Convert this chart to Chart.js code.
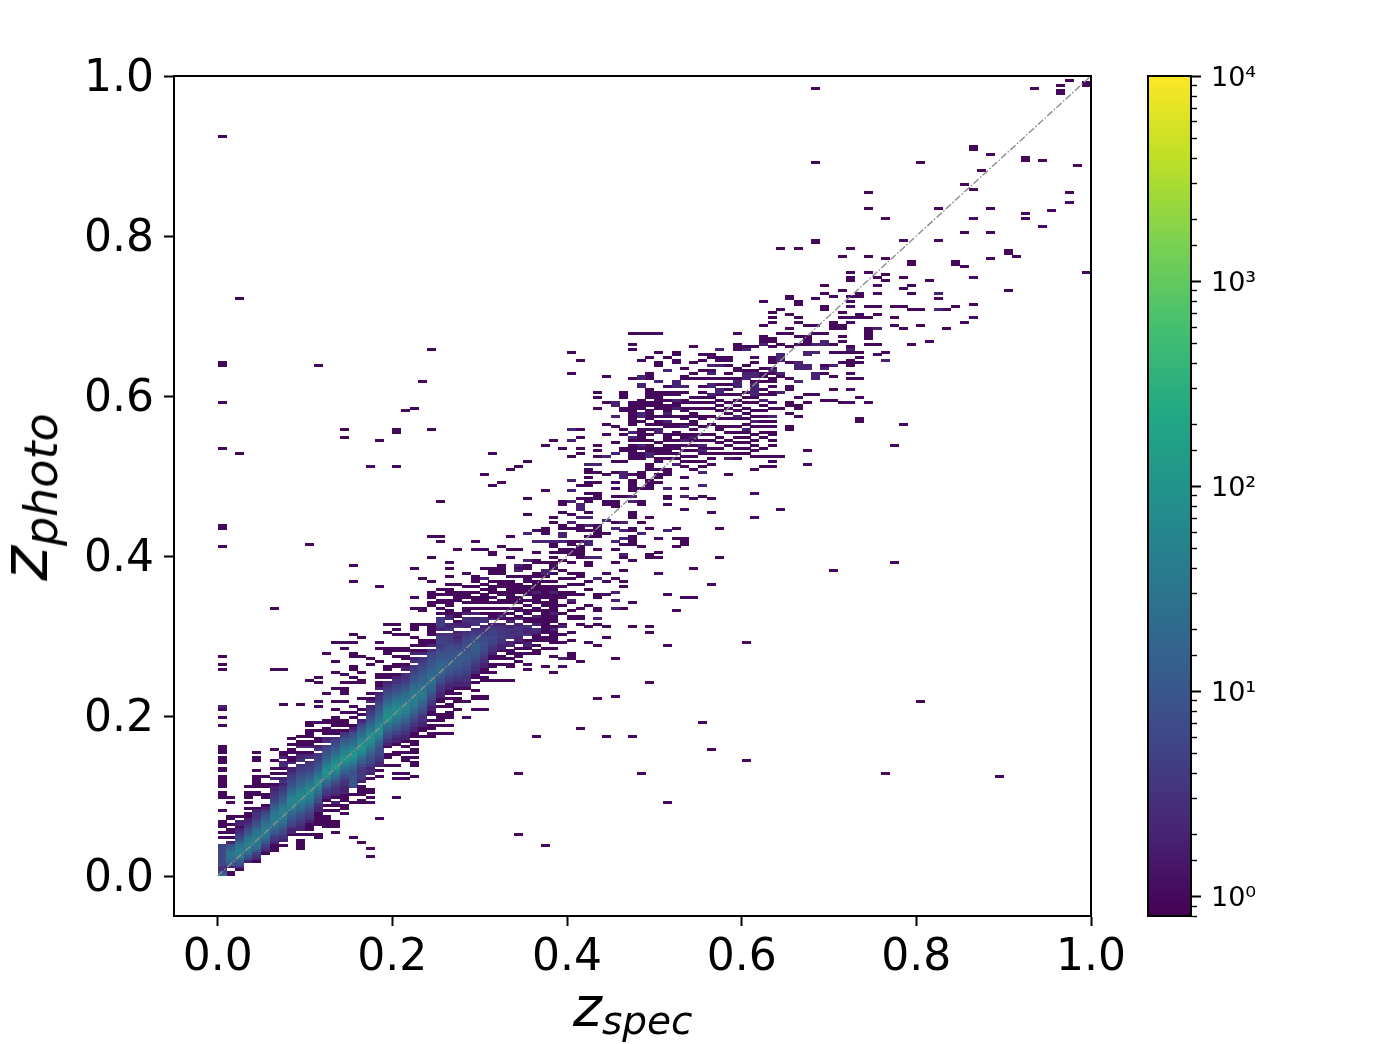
<!DOCTYPE html>
<html lang="en">

<head>
    <meta charset="UTF-8" />
    <script src="https://cdn.jsdelivr.net/npm/chart.js@4/dist/chart.umd.min.js"></script>
    <style>
        body { margin: 0; background: #fff; }
        canvas { position: absolute; left: 0; top: 0; }
        .axis-label { position: absolute; font-family: "DejaVu Sans"; font-style: italic; line-height: 1; white-space: nowrap; color: #000; }
        .axis-label sub { line-height: 0; }
        #xlabel { left: 573px; top: 980px; font-size: 55px; }
        #xlabel sub { font-size: 39px; vertical-align: -8px; }
        #ylabel { left: 25px; top: 497px; font-size: 66px; transform: translate(-50%, -50%) rotate(-90deg); }
        #ylabel sub { font-size: 46px; vertical-align: -10px; }
    </style>
</head>

<body>
    <canvas id="hist" width="1388" height="1044"></canvas>
    <canvas id="bar" width="1388" height="1044"></canvas>
    <div class="axis-label" id="xlabel">z<sub>spec</sub></div>
    <div class="axis-label" id="ylabel">z<sub>photo</sub></div>
    <script>
        // bin sizes of the 2d histogram: columns are 0.01 wide, rows 1/300 high
        const colWidth = 0.01;
        const rowHeight = 1 / 300;

        // contiguous part of each column, counts going upwards from coreStart (0 = empty bin)
        const coreStart = [0, 3, 2, 5, 5, 8, 9, 11, 15, 15, 15, 24, 28, 24, 23, 33, 33, 36, 37, 48, 49, 46, 46, 52, 52, 63, 68, 68, 70, 72, 73, 76, 79, 83, 85, 83, 86, 88];
        const coreCounts = [
            [25, 8, 3, 3, 6, 6, 6, 7, 6, 6, 6, 5],
            [2, 10, 18, 25, 30, 28, 22, 15, 8, 2],
            [1, 3, 7, 12, 22, 35, 42, 45, 38, 28, 18, 10, 6, 4, 3, 2, 1, 2, 2],
            [2, 5, 10, 20, 32, 40, 45, 42, 35, 25, 15, 9, 6, 4, 3, 2, 2, 1, 1],
            [1, 2, 3, 5, 11, 20, 30, 38, 42, 40, 35, 28, 20, 13, 8, 6, 4, 3, 3, 2],
            [1, 2, 3, 5, 9, 16, 26, 36, 42, 40, 34, 27, 20, 13, 9, 6, 4, 2, 1],
            [1, 1, 1, 2, 3, 4, 7, 11, 17, 26, 36, 44, 46, 40, 32, 24, 16, 11, 7, 5, 4, 3, 3, 2, 2, 1, 0, 2, 0, 1],
            [1, 0, 2, 3, 4, 6, 8, 12, 18, 26, 36, 46, 52, 48, 40, 30, 20, 13, 9, 7, 5, 4, 3, 2, 3, 2, 0, 1, 0, 1, 3, 2, 0, 2, 1, 1],
            [1, 2, 2, 4, 5, 7, 10, 14, 20, 30, 42, 52, 58, 54, 44, 32, 22, 15, 11, 8, 6, 5, 4, 3, 2, 2, 0, 2, 1, 1, 0, 1, 1, 0, 1, 0, 1],
            [1, 0, 2, 2, 3, 4, 5, 7, 10, 14, 22, 32, 44, 56, 62, 58, 48, 36, 26, 18, 14, 10, 8, 6, 5, 4, 3, 0, 3, 2, 2, 1, 0, 2, 1, 1, 0, 1],
            [1, 0, 1, 1, 1, 2, 3, 4, 5, 7, 10, 15, 23, 34, 48, 64, 72, 68, 52, 38, 25, 16, 11, 8, 6, 5, 4, 3, 0, 3, 2, 1, 0, 2, 1, 1],
            [2, 2, 3, 5, 7, 11, 16, 25, 38, 58, 76, 70, 52, 36, 24, 15, 11, 8, 6, 5, 4, 3, 0, 3, 2, 0, 1, 1],
            [1, 2, 3, 4, 5, 9, 15, 24, 42, 66, 88, 84, 66, 46, 30, 20, 14, 10, 8, 6, 5, 0, 3, 2, 0, 1, 1, 1],
            [1, 0, 1, 2, 0, 1, 2, 3, 3, 4, 5, 9, 15, 24, 40, 62, 90, 100, 80, 58, 40, 28, 20, 14, 10, 7, 5, 3],
            [1, 0, 1, 1, 0, 1, 1, 1, 2, 2, 2, 3, 3, 5, 6, 11, 16, 25, 40, 64, 92, 100, 78, 56, 38, 28, 18, 12, 8, 5, 3, 1],
            [6, 10, 10, 8, 10, 8, 10, 15, 24, 36, 56, 88, 110, 90, 62, 44, 30, 20, 14, 10, 6, 3, 2, 1],
            [1, 0, 2, 3, 4, 4, 3, 4, 7, 11, 16, 25, 40, 62, 90, 105, 86, 62, 44, 30, 20, 14, 9, 6, 3, 2, 0, 1],
            [1, 0, 2, 3, 2, 4, 6, 7, 9, 12, 16, 25, 38, 56, 80, 95, 84, 66, 46, 32, 22, 14, 10, 7, 5, 4, 3, 2, 0, 2, 1],
            [1, 0, 1, 0, 2, 2, 3, 4, 5, 6, 7, 9, 13, 20, 30, 48, 70, 85, 78, 66, 50, 36, 26, 18, 14, 10, 8, 6, 4, 3, 3, 2, 0, 2, 1, 1, 0, 1, 1, 0],
            [1, 2, 3, 4, 6, 8, 13, 20, 30, 46, 70, 88, 84, 68, 50, 38, 26, 18, 12, 9, 7, 5, 4, 3, 2, 0, 1, 1],
            [1, 2, 2, 3, 5, 7, 10, 14, 20, 30, 46, 66, 80, 74, 60, 46, 34, 24, 17, 12, 8, 6, 5, 3, 3, 2, 1, 0],
            [1, 0, 1, 0, 1, 2, 2, 3, 4, 5, 7, 11, 16, 24, 30, 42, 52, 58, 52, 42, 32, 24, 18, 14, 10, 7, 5, 4, 3, 3, 0, 2, 2, 1, 0, 1, 1],
            [1, 1, 0, 1, 1, 0, 1, 1, 2, 2, 3, 4, 5, 8, 12, 16, 22, 30, 38, 44, 46, 42, 36, 28, 22, 18, 14, 10, 8, 6, 5, 4, 3, 0, 3, 2, 0, 2, 1],
            [1, 0, 1, 1, 2, 2, 3, 3, 4, 6, 9, 12, 16, 20, 26, 32, 34, 32, 28, 24, 20, 16, 13, 11, 9, 7, 6, 5, 4, 3, 0, 2, 1],
            [1, 1, 0, 1, 1, 0, 1, 0, 1, 1, 2, 2, 3, 4, 5, 7, 10, 13, 16, 20, 24, 26, 24, 20, 17, 14, 12, 10, 8, 7, 6, 5, 3, 0, 2, 1, 1],
            [1, 0, 1, 1, 2, 2, 3, 3, 4, 6, 8, 10, 14, 17, 19, 18, 16, 14, 11, 9, 8, 6, 5, 4, 5, 5, 4, 3, 0, 2, 3, 4, 4, 3, 0, 1],
            [1, 1, 2, 2, 3, 4, 5, 7, 10, 12, 14, 14, 13, 12, 10, 9, 8, 7, 6, 5, 4, 4, 3, 0, 3, 2, 2, 0, 2, 2, 1, 1],
            [1, 0, 1, 2, 2, 3, 4, 5, 6, 8, 10, 11, 12, 11, 10, 9, 8, 7, 5, 4, 3, 2, 3, 2, 0, 3, 2, 1, 0, 1, 1],
            [1, 2, 2, 3, 3, 4, 5, 6, 7, 8, 9, 10, 11, 10, 9, 8, 8, 7, 6, 5, 4, 3, 0, 2, 2, 3, 3, 0, 2, 1, 1],
            [1, 0, 1, 1, 2, 3, 3, 4, 5, 7, 8, 10, 12, 13, 12, 10, 8, 6, 5, 4, 3, 0, 3, 3, 2, 0, 2],
            [1, 1, 0, 1, 1, 2, 2, 3, 3, 4, 5, 6, 7, 8, 8, 7, 6, 5, 4, 3, 2, 0, 3, 3, 0, 1],
            [1, 0, 1, 1, 0, 1, 1, 2, 3, 3, 4, 5, 5, 6, 5, 5, 4, 3, 2, 0, 2, 1, 1, 0, 1],
            [1, 0, 1, 1, 0, 1, 2, 2, 3, 3, 4, 4, 4, 3, 3, 2, 0, 1, 2, 1, 0, 1],
            [1, 1, 0, 2, 2, 0, 3, 3, 3, 3, 2, 0, 2, 1, 0, 1],
            [1, 0, 1, 2, 2, 3, 3, 3, 3, 2, 0, 2, 1, 0, 1, 1],
            [1, 0, 1, 2, 2, 1, 0, 3, 2, 2, 3, 0, 1, 1, 0, 1, 1, 0, 1],
            [1, 0, 1, 1, 1, 2, 3, 0, 2, 1, 1, 2, 0, 1, 1],
            [1, 1, 0, 1, 1, 1, 1, 1, 1, 1, 1, 1]
        ];

        // isolated rows holding a single object, one list per column
        const strayOnes = [
            [14, 16, 18, 19, 20, 24, 29, 30, 31, 33, 34, 35, 36, 37, 39, 40, 42, 43, 44, 46, 47, 48, 56, 59, 62, 77, 79, 82, 123, 130, 131, 160, 177, 191, 192, 277],
            [0, 1, 14, 16, 17, 19, 21, 22, 27, 29],
            [22, 158, 216],
            [25, 27, 29, 30, 31, 33],
            [25, 30, 31, 33, 34, 35, 36, 37, 39, 43, 44, 46],
            [26, 29, 30, 33, 34, 37],
            [40, 43, 47, 77, 100],
            [64, 77],
            [],
            [10, 11, 12, 13, 64],
            [52, 53, 54, 56, 57, 73, 124],
            [14, 15, 19, 20, 21, 22, 23, 54, 57, 63, 65, 72, 74, 191],
            [18, 19, 20, 21, 22, 24, 26, 57, 58, 68, 83],
            [16, 18, 19, 20, 53, 54, 56, 57, 58, 59, 62, 65, 70, 76, 80, 87],
            [56, 57, 58, 61, 65, 68, 69, 70, 72, 75, 85, 87, 164, 167],
            [14, 27, 30, 59, 61, 63, 72, 74, 77, 78, 82, 83, 87, 90, 110, 116],
            [12, 27, 28, 30, 31, 32, 62, 66, 72, 73, 76, 82, 89],
            [7, 10, 27, 29, 31, 32, 68, 79, 81, 153],
            [21, 80, 85, 87, 108, 163],
            [41, 44, 45, 77, 78, 83, 84, 85, 91, 94],
            [29, 36, 38, 41, 45, 46, 78, 79, 82, 84, 85, 90, 92, 94, 153, 166, 167],
            [36, 38, 43, 44, 84, 85, 90, 174],
            [37, 41, 42, 44, 86, 89, 92, 93, 94, 100, 104, 115, 175],
            [86, 87, 88, 94, 99, 100, 111, 185],
            [90, 91, 92, 93, 94, 101, 102, 104, 105, 106, 110, 119, 127, 167, 197],
            [53, 56, 58, 59, 60, 100, 102, 103, 105, 107, 125, 127, 140],
            [53, 56, 59, 60, 61, 63, 64, 66, 101, 102, 103, 105, 106, 107, 109, 112, 115, 117],
            [62, 65, 66, 103, 104, 105, 106, 109, 122],
            [59, 65, 102, 104, 105, 106, 108, 113],
            [62, 66, 67, 69, 100, 102, 103, 104, 106, 108, 110, 111, 112, 122, 125],
            [62, 66, 67, 100, 102, 103, 104, 105, 107, 109, 115, 122, 150],
            [73, 102, 104, 106, 107, 108, 110, 113, 114, 115, 120, 121, 146, 158],
            [73, 102, 103, 105, 106, 108, 109, 110, 113, 114, 115, 116, 123, 147],
            [73, 78, 79, 81, 100, 102, 103, 104, 105, 106, 107, 108, 109, 110, 112, 119, 122, 127, 152],
            [15, 38, 80, 82, 83, 102, 103, 104, 106, 107, 108, 109, 112, 115, 122, 153],
            [77, 79, 103, 105, 106, 107, 108, 110, 111, 112, 115, 116, 135, 141, 155],
            [52, 83, 84, 102, 103, 104, 105, 107, 108, 109, 110, 112, 113, 117, 118, 121, 129],
            [11, 78, 85, 101, 102, 104, 105, 106, 107, 108, 110, 112, 117, 128, 129, 130, 144, 161],
            [76, 82, 85, 87, 88, 89, 90, 91, 93, 95, 96, 97, 99, 100, 101, 102, 103, 104, 105, 107, 108, 110, 113, 115, 116, 117, 119, 121, 123, 124, 132, 134, 163],
            [78, 87, 90, 94, 98, 101, 104, 105, 106, 108, 111, 114, 118, 121, 122, 130, 131, 136, 139, 140, 160],
            [81, 82, 83, 88, 91, 96, 97, 99, 102, 105, 106, 109, 111, 113, 117, 120, 121, 122, 124, 125, 130, 135, 157, 188, 196],
            [55, 80, 94, 96, 97, 100, 105, 109, 112, 113, 119, 120, 121, 122, 123, 125, 129, 130, 131, 141, 146, 158, 160, 164, 167, 193],
            [87, 93, 101, 107, 110, 116, 117, 127, 129, 136, 140, 141, 143, 146, 147, 149, 151, 152],
            [66, 86, 94, 99, 100, 104, 105, 122, 127, 128, 129, 130, 131, 141, 142, 143, 147, 151, 157, 159, 161, 175, 179, 181],
            [52, 89, 93, 105, 110, 113, 128, 139, 140, 150, 165, 169, 177, 187],
            [67, 81, 111, 117, 122, 132, 138, 139, 140, 142, 145, 147, 151, 155, 162, 168],
            [100, 108, 110, 114, 119, 124, 142, 155, 159, 160, 165, 167, 174, 175, 179, 180, 181],
            [52, 93, 102, 118, 124, 125, 126, 127, 129, 130, 134, 135, 136, 144, 145, 146, 147, 148, 150, 156, 157, 158, 159, 160, 161, 163, 169, 170, 171, 172, 173, 174, 175, 176, 177, 186, 197, 199, 203],
            [38, 123, 132, 139, 140, 145, 149, 150, 151, 156, 157, 158, 160, 163, 164, 165, 166, 167, 170, 175, 176, 177, 178, 193, 203],
            [72, 91, 93, 119, 120, 130, 134, 145, 146, 147, 148, 152, 153, 154, 159, 160, 161, 163, 165, 167, 169, 171, 172, 173, 174, 176, 177, 179, 180, 181, 182, 186, 187, 188, 194, 203],
            [113, 119, 121, 126, 147, 149, 150, 152, 155, 156, 158, 159, 160, 162, 169, 170, 172, 175, 176, 177, 178, 179, 180, 181, 191, 192, 196, 203],
            [27, 86, 105, 139, 141, 142, 150, 151, 152, 156, 158, 159, 160, 161, 163, 164, 165, 168, 169, 172, 174, 175, 176, 178, 180, 181, 183, 194],
            [99, 123, 126, 130, 156, 158, 160, 161, 163, 165, 166, 168, 169, 172, 176, 177, 180, 181, 192, 193, 195, 196],
            [104, 124, 125, 126, 137, 145, 149, 153, 155, 157, 159, 161, 164, 165, 169, 171, 172, 174, 175, 177, 178, 181, 186, 187, 190],
            [104, 115, 141, 152, 155, 157, 159, 161, 163, 165, 167, 169, 170, 172, 173, 175, 177, 179, 186, 188, 192, 198],
            [57, 142, 153, 155, 158, 160, 163, 165, 168, 171, 172, 175, 177, 179, 181, 183, 186, 189, 193, 195],
            [47, 109, 136, 141, 154, 156, 158, 160, 163, 165, 169, 172, 175, 177, 179, 186, 189, 194, 195],
            [119, 130, 158, 160, 162, 164, 167, 168, 171, 174, 176, 178, 180, 184, 186, 193, 194],
            [150, 158, 161, 163, 166, 168, 171, 173, 175, 177, 180, 182, 184, 186, 188, 191, 193, 194],
            [156, 158, 160, 162, 164, 166, 168, 171, 174, 176, 178, 180, 186, 189, 190, 197, 198, 199, 203],
            [43, 87, 158, 160, 162, 164, 166, 169, 171, 173, 175, 177, 179, 181, 189, 191, 198],
            [134, 143, 152, 157, 159, 161, 163, 165, 168, 172, 174, 177, 179, 185, 189, 192, 194, 198],
            [153, 157, 160, 164, 166, 168, 170, 172, 174, 176, 180, 182, 185, 187, 188, 190, 200, 201, 202, 206, 215],
            [153, 155, 157, 161, 163, 165, 166, 168, 170, 175, 177, 180, 181, 183, 185, 186, 188, 190, 192, 193, 194, 198, 200, 201, 207, 209, 211],
            [137, 157, 175, 187, 199, 203, 212, 235],
            [167, 168, 173, 176, 177, 182, 183, 186, 192, 198, 203, 205, 210, 216, 217],
            [172, 175, 176, 179, 199, 202, 207, 209, 214, 215, 235],
            [154, 159, 177, 180, 199, 200, 201, 202, 206],
            [180, 203, 206, 216, 237, 238, 267, 295],
            [178, 188, 191, 203, 212, 213, 218, 221],
            [114, 178, 182, 187, 196, 199, 205, 206, 207, 217],
            [177, 192, 196, 200, 202, 205, 206, 209, 211, 219, 232],
            [177, 182, 186, 188, 191, 192, 193, 196, 198, 207, 209, 213, 215, 217, 223, 224, 226, 235],
            [170, 171, 179, 186, 192, 194, 196, 209, 210, 217, 218],
            [177, 199, 201, 202, 203, 204, 205, 209, 213, 226, 232, 250, 256],
            [195, 199, 210, 213, 218, 221, 224],
            [38, 196, 223, 225, 231, 246],
            [117, 161, 206, 209, 213],
            [169, 205, 213, 220, 224, 238],
            [199, 212, 218, 221, 229, 230],
            [65, 206, 212, 267],
            [200, 223],
            [216, 238, 250],
            [205, 212],
            [213, 229, 230],
            [207, 228, 241, 259],
            [209, 214, 224, 246, 257, 272, 273],
            [264],
            [231, 241, 250, 270],
            [37],
            [219, 233, 234],
            [232],
            [246, 248, 268, 269],
            [295],
            [243, 268],
            [249],
            [293, 294, 296],
            [252, 256, 298],
            [266],
            [226, 296, 297]
        ];

        // isolated rows holding two or three objects, lighter purple: strayColumns[n] has rows strayTwos[n]
        const strayColumns = [0, 30, 34, 35, 36, 37, 38, 39, 40, 41, 42, 43, 44, 45, 46, 47, 48, 49, 50, 51, 52, 53, 54, 55, 56, 57, 58, 59, 60, 61, 62, 63, 64, 66, 67, 68, 69, 70, 72, 75, 76, 82];
        const strayTwos = [
            [63],
            [111],
            [114, 116],
            [118, 128],
            [106, 125],
            [113, 114, 125],
            [92, 98, 106, 125],
            [81, 93, 125, 127, 128],
            [103, 132, 140, 144, 148, 163, 167],
            [134, 137, 138, 139],
            [119, 124, 125, 131, 134, 154],
            [96, 111, 119, 154],
            [133, 157],
            [100, 103, 106, 125, 130, 158, 172, 176, 177],
            [120, 126, 129, 132, 149, 150, 151],
            [140, 142, 164, 166],
            [128, 161, 172, 173, 183, 184, 186, 187],
            [157, 158],
            [166, 167, 185],
            [129, 145, 170, 173, 189],
            [154, 175, 178, 183, 184, 185],
            [142, 163, 168, 183],
            [164],
            [146, 151, 159, 161],
            [180, 183, 184, 188, 191],
            [181, 182, 191, 197],
            [156],
            [172, 183, 184, 185],
            [167, 186, 187, 188, 197],
            [170, 180, 181, 182, 183, 184, 187, 188],
            [178, 199],
            [172, 189],
            [181, 188, 193, 194, 195],
            [185, 190, 191, 192],
            [190, 191, 195, 196],
            [186, 187, 188, 196, 199],
            [190, 199, 200],
            [191],
            [197],
            [205],
            [193],
            [212, 218]
        ];

        const xTicks = [0, 0.2, 0.4, 0.6, 0.8, 1];
        const yTicks = [0, 0.2, 0.4, 0.6, 0.8, 1];
        const diagonal = [0, 1];
        const barRange = [0.8, 10000];

        // viridis anchors
        const viridis = ['#440154', '#482475', '#414487', '#355f8d', '#2a788e', '#21918c', '#22a884', '#44bf70', '#7ad151', '#bddf26', '#fde725'];

        function hexRgb(h) {
            return [1, 3, 5].map(k => parseInt(h.slice(k, k + 2), 16));
        }
        function colorFor(count) {
            const t = (Math.log10(count) - Math.log10(barRange[0])) / (Math.log10(barRange[1]) - Math.log10(barRange[0]));
            const p = Math.min(t, 0.9999) * (viridis.length - 1);
            const k = Math.floor(p);
            const a = hexRgb(viridis[k]);
            const b = hexRgb(viridis[k + 1]);
            const c = a.map((v, n) => Math.round(v + (b[n] - v) * (p - k)));
            return `rgb(${c[0]},${c[1]},${c[2]})`;
        }

        const cells = [];
        function addCell(col, row, count) {
            cells.push({ x: (col + 0.5) * colWidth, y: (row + 0.5) * rowHeight, count: count });
        }
        strayOnes.forEach((rows, col) => rows.forEach(row => addCell(col, row, 1)));
        strayTwos.forEach((rows, n) => rows.forEach(row => addCell(strayColumns[n], row, 2)));
        coreCounts.forEach((list, col) => {
            list.forEach((count, n) => {
                if (count > 0) addCell(col, coreStart[col] + n, count);
            });
        });

        // one little canvas per count, chart.js draws it as the point style
        const stamps = {};
        function stampFor(ctx) {
            const cell = ctx.raw;
            if (!cell) return 'rect';
            const chart = ctx.chart;
            const w = Math.ceil(Math.abs(chart.scales.x.getPixelForValue(colWidth) - chart.scales.x.getPixelForValue(0)));
            const h = Math.ceil(Math.abs(chart.scales.y.getPixelForValue(rowHeight) - chart.scales.y.getPixelForValue(0)));
            const key = cell.count + '_' + w + '_' + h;
            if (!stamps[key]) {
                const c = document.createElement('canvas');
                c.width = w;
                c.height = h;
                const g = c.getContext('2d');
                g.fillStyle = colorFor(cell.count);
                g.fillRect(0, 0, w, h);
                stamps[key] = c;
            }
            return stamps[key];
        }

        const frame = {
            id: 'frame',
            afterDatasetsDraw(chart) {
                const a = chart.chartArea;
                const ctx = chart.ctx;
                ctx.save();
                ctx.strokeStyle = '#000';
                ctx.lineWidth = 2;
                ctx.strokeRect(a.left, a.top, a.right - a.left, a.bottom - a.top);
                ctx.restore();
            }
        };

        new Chart(document.getElementById('hist').getContext('2d'), {
            type: 'scatter',
            plugins: [frame],
            data: {
                datasets: [
                    {
                        label: 'z_photo = z_spec',
                        data: diagonal.map(v => ({ x: v, y: v })),
                        showLine: true,
                        pointRadius: 0,
                        borderColor: '#8c8c8c',
                        borderWidth: 1.4,
                        borderDash: [7, 2, 1.5, 2],
                        order: 0
                    },
                    {
                        label: 'counts',
                        data: cells,
                        pointStyle: stampFor,
                        radius: 3,
                        order: 1
                    }
                ]
            },
            options: {
                responsive: false,
                animation: false,
                events: [],
                layout: { padding: { left: 0, top: 76, right: 297, bottom: 0 } },
                plugins: { legend: { display: false }, tooltip: { enabled: false } },
                scales: {
                    x: {
                        type: 'linear',
                        min: -0.05,
                        max: 1,
                        afterFit(s) { s.height = 128; },
                        afterBuildTicks(s) { s.ticks = xTicks.map(v => ({ value: v })); },
                        border: { color: '#000', width: 2 },
                        grid: { drawOnChartArea: false, tickLength: 10, tickWidth: 2, tickColor: '#000' },
                        ticks: { color: '#000', font: { family: 'DejaVu Sans', size: 44 }, padding: 6, maxRotation: 0, callback: v => v.toFixed(1) }
                    },
                    y: {
                        type: 'linear',
                        min: -0.05,
                        max: 1,
                        afterFit(s) { s.width = 174; },
                        afterBuildTicks(s) { s.ticks = yTicks.map(v => ({ value: v })); },
                        border: { color: '#000', width: 2 },
                        grid: { drawOnChartArea: false, tickLength: 10, tickWidth: 2, tickColor: '#000' },
                        // the empty first line pushes the digits down onto the tick
                        ticks: { color: '#000', font: { family: 'DejaVu Sans', size: 44, lineHeight: '7px' }, padding: 10, callback: v => ['', v.toFixed(1)] }
                    }
                }
            }
        });

        const sup = { 0: '\u2070', 1: '\u00b9', 2: '\u00b2', 3: '\u00b3', 4: '\u2074' };
        function isDecade(v) {
            const e = Math.log10(v);
            return Math.abs(e - Math.round(e)) < 1e-6;
        }
        // chart.js has one tick length per axis, so the short minor ticks are drawn here
        const minorTicks = {
            id: 'minorTicks',
            afterDraw(chart) {
                const s = chart.scales.y;
                const a = chart.chartArea;
                const ctx = chart.ctx;
                ctx.save();
                ctx.strokeStyle = '#000';
                ctx.lineWidth = 1.4;
                s.ticks.forEach(t => {
                    if (isDecade(t.value)) return;
                    const y = Math.round(s.getPixelForValue(t.value)) + 0.5;
                    ctx.beginPath();
                    ctx.moveTo(a.right, y);
                    ctx.lineTo(a.right + 6, y);
                    ctx.stroke();
                });
                ctx.lineWidth = 2;
                ctx.strokeRect(a.left, a.top, a.right - a.left, a.bottom - a.top);
                ctx.restore();
            }
        };

        function barGradient(ctx) {
            const a = ctx.chart.chartArea;
            if (!a) return viridis[0];
            const g = ctx.chart.ctx.createLinearGradient(0, a.bottom, 0, a.top);
            viridis.forEach((c, n) => g.addColorStop(n / (viridis.length - 1), c));
            return g;
        }

        new Chart(document.getElementById('bar').getContext('2d'), {
            type: 'bar',
            plugins: [minorTicks],
            data: {
                labels: [''],
                datasets: [{
                    label: 'count',
                    data: [barRange],
                    backgroundColor: barGradient,
                    barPercentage: 1,
                    categoryPercentage: 1
                }]
            },
            options: {
                responsive: false,
                animation: false,
                events: [],
                layout: { padding: { left: 1148, top: 76, right: 0, bottom: 128 } },
                plugins: { legend: { display: false }, tooltip: { enabled: false } },
                scales: {
                    x: { display: false },
                    y: {
                        type: 'logarithmic',
                        position: 'right',
                        min: barRange[0],
                        max: barRange[1],
                        afterFit(s) { s.width = 197; },
                        border: { display: false },
                        grid: {
                            drawOnChartArea: false,
                            tickLength: 10,
                            tickWidth: 2,
                            tickColor: c => (isDecade(c.tick.value) ? '#000' : 'transparent')
                        },
                        ticks: {
                            color: '#000',
                            autoSkip: false,
                            font: { family: 'DejaVu Sans', size: 27, lineHeight: '6px' },
                            padding: 10,
                            callback: v => (isDecade(v) ? ['', '10' + sup[Math.round(Math.log10(v))]] : '')
                        }
                    }
                }
            }
        });
    </script>
</body>

</html>
